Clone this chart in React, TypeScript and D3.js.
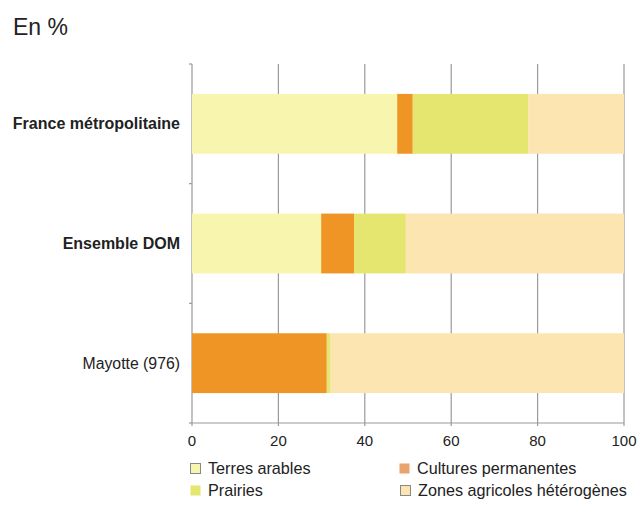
import React from "react";
import * as d3 from "d3";

const categories = ["France métropolitaine", "Ensemble DOM", "Mayotte (976)"];
const boldCategory = [true, true, false];
const seriesNames = ["Terres arables", "Cultures permanentes", "Prairies", "Zones agricoles hétérogènes"];
const terresArables = [47.5, 29.9, 0];
const culturesPermanentes = [3.6, 7.6, 31.2];
const prairies = [26.7, 12.0, 0.9];
const zonesHeterogenes = [22.2, 50.5, 67.9];
const xTicks = [0, 20, 40, 60, 80, 100];

const barColors = ["#F8F5AE", "#EF9525", "#E4E66F", "#FCE5B1"];
const legendColors = ["#F8F5AE", "#E9A36C", "#E4E66F", "#FCE5B1"];
const legendBorder = [true, false, false, true];

export default function App() {
  const W = 637, H = 506;
  const left = 192, right = 624, top = 64, bottom = 423;
  const x = d3.scaleLinear().domain([0, 100]).range([left, right]);
  const y = d3.scaleBand<string>().domain(categories).range([top, bottom]).paddingInner(0.5).paddingOuter(0.25);
  const yOuter = d3.scaleBand<string>().domain(categories).range([top, bottom]);

  const rows = categories.map((c, i) => ({
    cat: c,
    s0: terresArables[i],
    s1: culturesPermanentes[i],
    s2: prairies[i],
    s3: zonesHeterogenes[i],
  }));
  const stack = d3.stack<any>().keys(["s0", "s1", "s2", "s3"]);
  const layers = stack(rows);
  const font = "'Liberation Sans', Arial, Helvetica, sans-serif";
  const grid = "#9a9a9a";

  const legendItems = [
    { idx: 0, lx: 190, ly: 463 },
    { idx: 1, lx: 399, ly: 463 },
    { idx: 2, lx: 190, ly: 485 },
    { idx: 3, lx: 400, ly: 485 },
  ];

  return (
    <svg width={W} height={H} style={{ position: "absolute", left: 0, top: 0 }} fontFamily={font}>
      <rect width={W} height={H} fill="#fff" />
      <text x={13} y={35} fontSize={23} fill="#222">En %</text>

      {xTicks.map((t) => (
        <line key={"g" + t} x1={x(t)} x2={x(t)} y1={top} y2={bottom + 3} stroke={grid} strokeWidth={1.2} />
      ))}
      <line x1={left} x2={right} y1={bottom} y2={bottom} stroke={grid} strokeWidth={1.2} />
      {categories.map((c) => (
        <line key={"yt" + c} x1={left - 3} x2={left} y1={yOuter(c)!} y2={yOuter(c)!} stroke={grid} strokeWidth={1.2} />
      ))}
      <line x1={left - 3} x2={left} y1={bottom} y2={bottom} stroke={grid} strokeWidth={1.2} />

      {layers.map((layer, li) => (
        <g key={"l" + li} fill={barColors[li]}>
          {layer.map((d, i) =>
            d[1] - d[0] > 0 ? (
              <rect key={i} x={x(d[0])} y={y(categories[i])!} width={x(d[1]) - x(d[0])} height={y.bandwidth()} />
            ) : null
          )}
        </g>
      ))}

      {xTicks.map((t) => (
        <text key={"xl" + t} x={x(t)} y={446} fontSize={15} textAnchor="middle" fill="#222">{t}</text>
      ))}

      {categories.map((c, i) => (
        <text key={"c" + c} x={180} y={y(c)! + y.bandwidth() / 2 + 5.5} fontSize={boldCategory[i] ? 16 : 15.8} fontWeight={boldCategory[i] ? "bold" : "normal"} textAnchor="end" fill="#222">{c}</text>
      ))}

      {legendItems.map(({ idx, lx, ly }) => (
        <g key={"lg" + idx}>
          <rect x={lx + 0.5} y={ly + 0.5} width={10} height={10} fill={legendColors[idx]} stroke={legendBorder[idx] ? "#888" : "none"} strokeWidth={1} />
          <text x={lx + 18} y={ly + 10.5} fontSize={16.2} fill="#222">{seriesNames[idx]}</text>
        </g>
      ))}
    </svg>
  );
}
